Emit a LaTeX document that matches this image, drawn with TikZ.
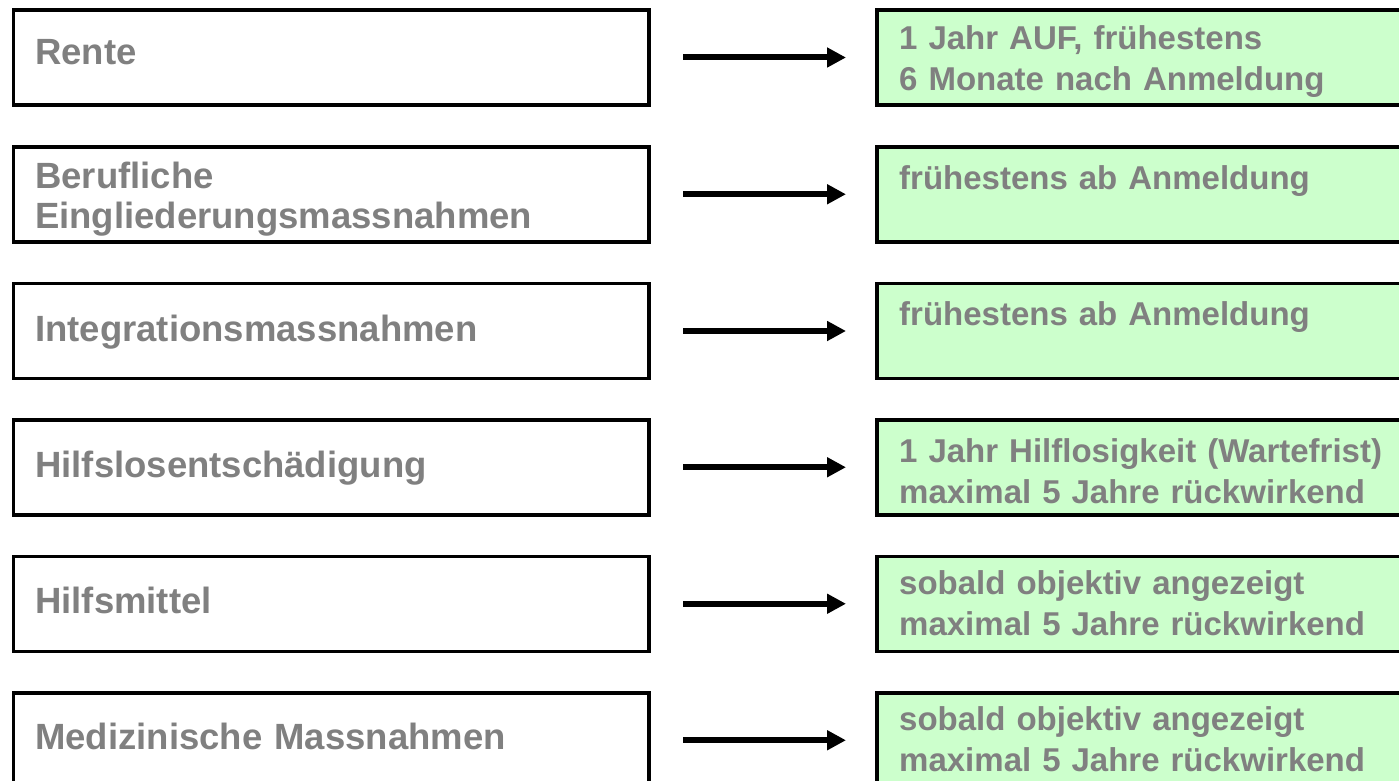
\documentclass[tikz,border=0pt]{standalone}
\usepackage{fontspec}
\setmainfont{Liberation Sans}
\usetikzlibrary{arrows.meta}
\definecolor{txtgray}{HTML}{808080}
\definecolor{boxgreen}{HTML}{CCFFCC}
\begin{document}
\begin{tikzpicture}[x=1pt,y=-1pt,
 lbox/.style={draw=black, line width=3.5pt, fill=white, minimum width=635.5pt, minimum height=95pt, anchor=north west, inner sep=0pt, outer sep=0pt},
 rbox/.style={lbox, fill=boxgreen, minimum width=580pt},
 ltext/.style={font=\bfseries\fontsize{36.5}{40}\selectfont, text=txtgray, anchor=base west, inner sep=0pt, text width=600pt, align=left},
 rtext/.style={font=\bfseries\fontsize{33}{41}\selectfont, text=txtgray, anchor=base west, inner sep=0pt, text width=495pt, align=left},
 arr/.style={-{Triangle[length=19pt,width=19pt]}, line width=6pt, shorten <=34pt, shorten >=31pt}]
\useasboundingbox (0,0) rectangle (1399,781);
\clip (0,0) rectangle (1399,781);
% rows
\node[lbox] (l1) at (13.5,10) {};
\node[rbox] (r1) at (877,10) {};
\node[lbox] (l2) at (13.5,146.75) {};
\node[rbox] (r2) at (877,146.75) {};
\node[lbox] (l3) at (13.5,283.5) {};
\node[rbox] (r3) at (877,283.5) {};
\node[lbox] (l4) at (13.5,419.75) {};
\node[rbox] (r4) at (877,419.75) {};
\node[lbox] (l5) at (13.5,556.25) {};
\node[rbox] (r5) at (877,556.25) {};
\node[lbox] (l6) at (13.5,692.75) {};
\node[rbox] (r6) at (877,692.75) {};
% left texts
\node[ltext] (lt1) at (35,64.5) {Rente};
\node[ltext] (lt2) at (35,188.5) {Berufliche\\Eingliederungsmassnahmen};
\node[ltext] (lt3) at (35,341) {Integrationsmassnahmen};
\node[ltext] (lt4) at (35,477.5) {Hilfslosentschädigung};
\node[ltext] (lt5) at (35,613) {Hilfsmittel};
\node[ltext] (lt6) at (35,749.5) {Medizinische Massnahmen};
% right texts
\node[rtext] (rt1) at (899,49.5) {1 Jahr AUF, frühestens\\6 Monate nach Anmeldung};
\node[rtext] (rt2) at (899,189) {frühestens ab Anmeldung};
\node[rtext] (rt3) at (899,325.7) {frühestens ab Anmeldung};
\node[rtext] (rt4) at (899,462) {1 Jahr Hilflosigkeit (Wartefrist)\\maximal 5 Jahre rückwirkend};
\node[rtext] (rt5) at (899,594.5) {sobald objektiv angezeigt\\maximal 5 Jahre rückwirkend};
\node[rtext] (rt6) at (899,730.5) {sobald objektiv angezeigt\\maximal 5 Jahre rückwirkend};
% arrows
\draw[arr] (l1.east) -- (r1.west);
\draw[arr] (l2.east) -- (r2.west);
\draw[arr] (l3.east) -- (r3.west);
\draw[arr] (l4.east) -- (r4.west);
\draw[arr] (l5.east) -- (r5.west);
\draw[arr] (l6.east) -- (r6.west);
\end{tikzpicture}
\end{document}
